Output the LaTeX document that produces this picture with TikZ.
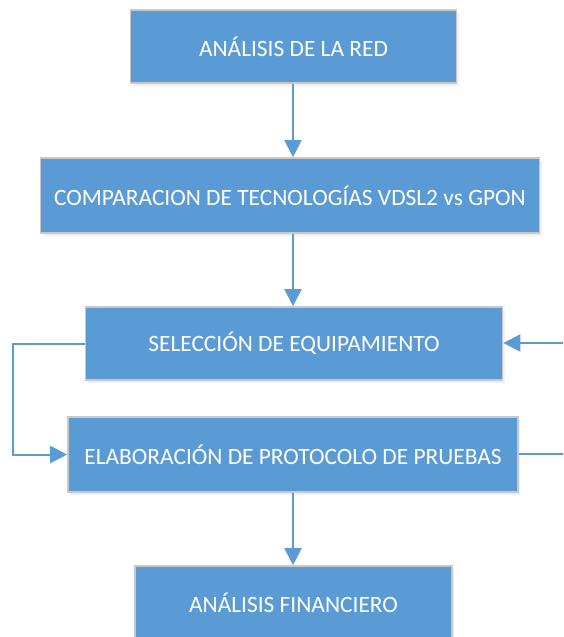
\documentclass[tikz,border=0pt]{standalone}
\usepackage{fontspec}
\setmainfont{Carlito}
\usetikzlibrary{arrows.meta,shadows}
\definecolor{boxblue}{HTML}{5B9BD5}
\definecolor{boxline}{HTML}{C8C8C8}
\definecolor{arrowblue}{HTML}{5B9BD5}
\tikzset{
  stepbox/.style={draw=boxline, line width=1.6pt, fill=boxblue, text=white,
    font=\fontsize{23.4}{27}\selectfont, inner sep=0pt, anchor=center,
    drop shadow={opacity=0.12, shadow xshift=2pt, shadow yshift=-3pt}},
  conn/.style={draw=arrowblue, line width=2pt},
  arr/.style={conn, -{Triangle[length=17pt,width=17pt]}}
}
\begin{document}
\begin{tikzpicture}[x=1pt,y=-1pt]
\useasboundingbox (0,0) rectangle (563,637);
\clip (0,0) rectangle (563,637);
\node[stepbox, minimum width=326pt, minimum height=73pt] (a) at (293.5,46.5) {ANÁLISIS DE LA RED};
\node[stepbox, minimum width=499pt, minimum height=75pt] (b) at (290,195.5) {COMPARACION DE TECNOLOGÍAS VDSL2 vs GPON};
\node[stepbox, minimum width=417pt, minimum height=73pt] (c) at (294,343.5) {SELECCIÓN DE EQUIPAMIENTO};
\node[stepbox, minimum width=450pt, minimum height=75pt] (d) at (293,454.5) {ELABORACIÓN DE PROTOCOLO DE PRUEBAS};
\node[stepbox, minimum width=317pt, minimum height=73pt] (e) at (293.5,602.5) {ANÁLISIS FINANCIERO};
\coordinate (rin) at (564,343);
\coordinate (rout) at (564,454);
\draw[arr] (a.south -| 293,0) -- (b.north -| 293,0);
\draw[arr] (b.south -| 293,0) -- (c.north -| 293,0);
\draw[arr] (d.south -| 293,0) -- (e.north -| 293,0);
\draw[arr] (c.west) -- (13,343.5) |- (d.west);
\draw[arr] (rin) -- (c.east |- rin);
\draw[conn] (d.east |- rout) -- (rout);
\end{tikzpicture}
\end{document}
